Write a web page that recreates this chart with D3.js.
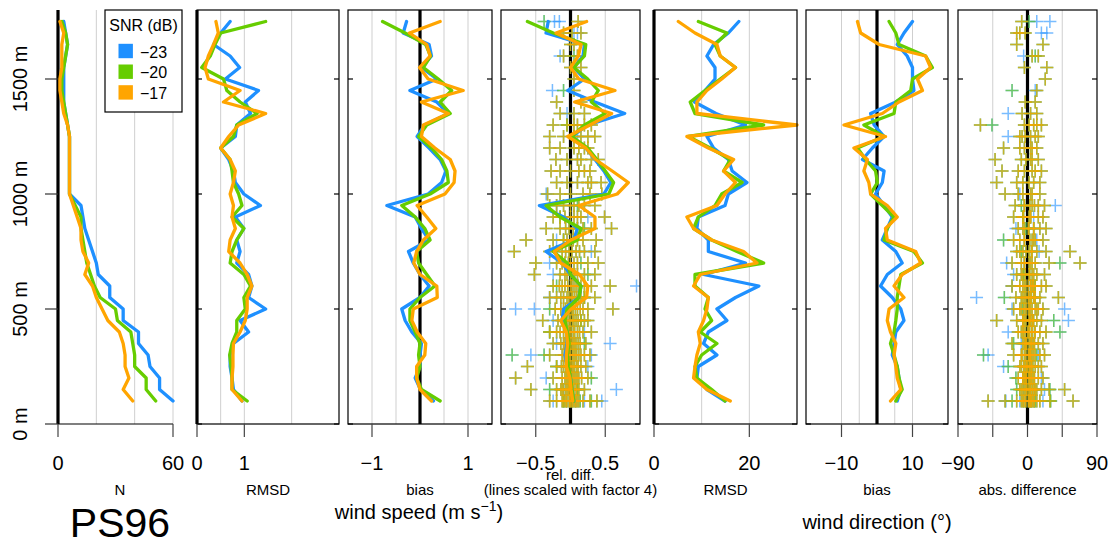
<!DOCTYPE html>
<html><head><meta charset="utf-8">
<script src="https://cdn.jsdelivr.net/npm/d3@7"></script>
<style>
body{margin:0;background:#fff;}
svg{display:block;font-family:"Liberation Sans",Arial,Helvetica,sans-serif;}
</style>
</head><body>
<svg id="c" width="1111" height="546"></svg>
<script>
// ---------------- DATA ----------------
const heights = [1750,1700,1650,1600,1550,1500,1450,1400,1350,1300,1250,1200,1150,1100,1050,1000,950,900,850,800,750,700,650,600,550,500,450,400,350,300,250,200,150,100];
const snrLabels = ["\u221223","\u221220","\u221217"];
const seriesColors = ["#1E90FF","#66CD00","#FFA500"];

// number of samples
const nBlue   = [3,4,5,4,3,3,3,3,4,5,6,6,6,6,6,6,12,13,14,16,18,20,21,27,27,34,34,42,42,47,48,53,53,60];
const nGreen  = [2,4,5,4,3,2,2,3,4,5,6,6,6,6,6,6,9,12,12,13,14,15,17,19,22,30,31,38,39,40,40,46,46,51];
const nOrange = [1,3,2,2,2,1,1,2,3,5,6,6,6,6,6,6,8,10,12,12,13,16,14,18,20,23,26,32,34,35,35,37,34,39];

// wind speed RMSD (m/s)
const wsRmsdBlue   = [0.70,0.50,0.35,0.70,0.90,0.60,1.30,1.02,1.13,0.84,0.81,0.50,0.67,0.77,0.81,0.99,1.34,0.81,0.99,0.84,0.91,0.84,1.09,1.16,1.09,1.45,0.91,1.09,0.77,0.70,0.70,0.74,0.77,0.95];
const wsRmsdGreen  = [1.45,0.50,0.38,0.28,0.10,0.56,0.63,0.91,1.27,0.84,0.77,0.50,0.70,0.74,0.77,0.88,0.95,0.74,0.99,0.84,0.74,0.70,0.99,1.13,0.99,1.02,0.84,0.84,0.74,0.69,0.72,0.74,0.74,1.06];
const wsRmsdOrange = [0.40,0.45,0.35,0.24,0.17,0.24,0.91,0.56,1.45,0.88,0.67,0.50,0.70,0.81,0.77,0.70,0.77,0.74,0.81,0.70,0.67,0.91,1.06,1.16,1.06,1.06,1.02,0.91,0.77,0.76,0.76,0.74,0.74,0.95];

// wind speed bias (m/s)
const wsBiasBlue   = [-0.28,-0.35,0.19,0.24,0.03,0.35,-0.21,0.35,0.59,0.10,-0.06,0.19,0.42,0.54,0.45,0.17,-0.69,-0.10,0.03,0.19,-0.24,-0.14,0.00,0.19,0.00,-0.38,-0.31,-0.17,0.03,0.00,0.00,-0.10,0.01,0.28];
const wsBiasGreen  = [-0.78,-0.31,0.12,0.22,0.07,0.38,0.66,0.42,0.63,0.14,-0.03,0.24,0.45,0.56,0.59,0.21,-0.38,-0.10,0.10,0.21,-0.07,-0.03,0.14,0.31,0.00,-0.21,-0.21,-0.10,0.00,-0.03,0.00,-0.07,0.03,0.42];
const wsBiasOrange = [0.42,-0.22,0.14,0.21,-0.01,0.17,0.90,0.03,0.59,0.07,0.03,0.31,0.63,0.73,0.71,0.52,-0.06,0.14,0.33,0.07,-0.07,-0.13,0.00,0.35,0.36,-0.14,-0.17,-0.06,0.12,0.10,-0.07,-0.07,0.00,0.24];

// wind speed mean relative difference (unscaled; drawn x4)
const wsRelBlue   = [-0.080,-0.088,0.050,0.045,0.012,0.050,-0.010,0.088,0.195,0.062,0.005,0.055,0.088,0.120,0.145,0.120,-0.112,-0.025,0.025,0.012,-0.088,-0.030,0.000,0.038,0.030,-0.025,-0.030,-0.012,-0.012,-0.020,-0.012,0.000,0.005,0.012];
const wsRelGreen  = [-0.155,-0.062,0.055,0.050,0.012,0.062,0.100,0.075,0.125,0.050,0.005,0.062,0.095,0.125,0.155,0.138,-0.088,-0.038,0.038,0.025,-0.062,-0.012,0.000,0.038,0.030,-0.012,-0.020,-0.012,-0.005,-0.012,-0.008,0.000,0.005,0.012];
const wsRelOrange = [0.058,-0.052,0.038,0.028,0.000,0.030,0.160,0.015,0.148,0.070,-0.010,0.055,0.090,0.150,0.208,0.168,0.030,0.088,0.088,0.002,-0.058,-0.035,0.032,0.062,0.058,0.002,-0.035,-0.015,-0.010,-0.015,-0.015,-0.002,0.002,0.008];

// wind direction RMSD (deg)
const wdRmsdBlue   = [17.8,15.6,12.5,11.1,12.8,12.8,10.7,8.5,13.0,19.2,11.1,12.5,15.6,16.4,19.5,15.6,14.9,9.3,9.0,11.4,11.4,19.2,10.4,22.0,17.1,13.2,15.3,11.4,10.4,13.2,9.3,9.0,11.1,14.9];
const wdRmsdGreen  = [9.3,15.3,12.8,13.9,17.1,13.9,10.7,7.6,8.6,23.0,7.2,11.8,16.0,14.6,18.5,14.2,12.8,9.3,8.3,12.1,17.4,23.0,8.6,8.6,11.4,10.7,12.1,9.7,13.2,10.0,8.6,9.0,12.1,14.9];
const wdRmsdOrange = [5.1,8.6,13.2,13.9,17.1,14.2,11.1,9.0,9.0,30.0,6.9,11.4,16.7,14.6,17.1,14.9,13.2,6.9,8.3,12.1,18.8,21.6,9.7,8.3,11.4,11.1,10.4,9.3,9.7,9.0,8.6,8.3,11.1,16.0];

// wind direction bias (deg)
const wdBiasBlue   = [10.0,7.6,5.7,8.5,10.0,10.0,10.4,5.3,-1.8,-0.8,2.0,-1.3,-4.1,2.0,1.5,-0.4,2.0,4.3,2.9,1.5,5.3,7.1,2.9,1.0,4.3,6.7,7.6,5.3,4.8,4.3,5.7,6.2,6.7,5.7];
const wdBiasGreen  = [3.4,5.3,6.2,13.7,15.6,10.0,9.5,5.3,4.8,-3.7,2.0,-5.5,-3.2,-0.4,0.1,-1.8,1.5,4.8,2.9,2.0,10.4,12.8,6.7,6.2,5.7,5.7,5.3,4.8,3.8,4.8,5.7,6.2,7.1,5.3];
const wdBiasOrange = [-5.5,-4.6,0.6,13.7,15.1,11.4,12.8,6.2,1.5,-9.3,2.4,-6.5,-2.7,-3.7,-2.3,-1.8,2.9,5.7,2.4,2.9,10.9,12.3,7.1,4.8,7.6,3.4,2.9,3.8,5.3,4.8,5.3,5.7,6.7,3.8];

// individual samples [height m, wind speed rel. diff., wind direction abs. diff. deg]
// SNR >= -17 dB
const samplesO = [
 [100,-0.30,-51],[100,-0.20,-29],[100,-0.12,-14],[100,-0.08,-6],[100,-0.05,2],[100,-0.02,-3],[100,0.00,8],[100,0.02,4],[100,0.05,12],[100,0.08,-8],[100,0.12,16],[100,0.18,29],[100,0.28,59],[100,0.38,6],
 [100,-0.06,-2],[100,-0.01,3],[100,0.03,-5],[100,0.07,9],[100,0.10,1],[100,-0.10,5],
 [150,-0.57,48],[150,-0.20,-10],[150,-0.10,-4],[150,-0.05,6],[150,-0.02,12],[150,0.01,-2],[150,0.04,3],[150,0.08,18],[150,0.12,-8],[150,0.20,9],[150,-0.14,28],
 [150,-0.07,1],[150,-0.03,-6],[150,0.00,7],[150,0.05,-1],[150,0.09,4],[150,-0.12,10],
 [200,-0.79,-6],[200,-0.25,4],[200,-0.12,-12],[200,-0.06,8],[200,-0.02,2],[200,0.02,14],[200,0.06,-4],[200,0.10,20],[200,0.16,6],[200,0.25,-2],
 [200,-0.08,-3],[200,-0.04,5],[200,0.00,-1],[200,0.04,2],[200,0.08,9],[200,0.12,-6],
 [250,-0.62,-8],[250,-0.20,10],[250,-0.10,-2],[250,-0.04,5],[250,0.00,-10],[250,0.04,14],[250,0.09,2],[250,0.15,18],[250,0.22,-5],
 [250,-0.07,3],[250,-0.02,-4],[250,0.02,7],[250,0.06,-1],[250,0.11,5],[250,-0.13,0],
 [300,-0.30,-18],[300,-0.12,6],[300,-0.06,-4],[300,-0.02,10],[300,0.03,2],[300,0.07,16],[300,0.12,-8],[300,0.20,22],[300,0.28,4],
 [300,-0.09,1],[300,-0.04,-7],[300,0.00,4],[300,0.05,8],[300,0.09,-2],[300,0.15,3],
 [350,-0.25,-20],[350,-0.10,4],[350,-0.05,-6],[350,0.00,8],[350,0.04,14],[350,0.08,-2],[350,0.14,20],[350,0.22,5],
 [350,-0.08,-1],[350,-0.03,6],[350,0.02,-4],[350,0.06,2],[350,0.11,9],[350,-0.14,-3],
 [400,-0.30,-12],[400,-0.15,10],[400,-0.06,-3],[400,-0.01,6],[400,0.04,16],[400,0.10,-8],[400,0.18,2],[400,0.30,24],
 [400,-0.10,2],[400,-0.03,-5],[400,0.01,9],[400,0.06,0],[400,0.13,5],[400,-0.20,-6],
 [450,-0.40,-40],[450,-0.18,-14],[450,-0.08,6],[450,-0.02,-4],[450,0.03,12],[450,0.08,2],[450,0.15,18],[450,0.25,-6],
 [450,-0.12,3],[450,-0.05,-2],[450,0.00,8],[450,0.05,-6],[450,0.11,4],[450,0.20,7],
 [500,-0.22,-18],[500,-0.10,6],[500,-0.04,-5],[500,0.02,10],[500,0.07,20],[500,0.14,2],[500,0.25,-10],[500,0.61,14],
 [500,-0.14,-3],[500,-0.07,2],[500,-0.01,-8],[500,0.04,4],[500,0.10,12],[500,0.18,-1],
 [550,-0.30,-15],[550,-0.14,8],[550,-0.05,-8],[550,0.01,4],[550,0.06,16],[550,0.12,-2],[550,0.20,40],[550,0.35,10],
 [550,-0.10,2],[550,-0.02,-4],[550,0.03,9],[550,0.09,1],[550,0.15,-6],[550,-0.20,5],
 [600,-0.25,-20],[600,-0.12,4],[600,-0.04,-10],[600,0.02,8],[600,0.08,18],[600,0.15,-4],[600,0.30,24],[600,0.57,6],
 [600,-0.16,-2],[600,-0.08,7],[600,0.00,1],[600,0.05,-6],[600,0.11,4],[600,0.20,10],
 [650,-0.52,-14],[650,-0.15,6],[650,-0.05,-6],[650,0.03,12],[650,0.10,2],[650,0.20,22],[650,0.35,-8],
 [650,-0.08,3],[650,0.00,-3],[650,0.06,8],
 [700,-0.50,-20],[700,-0.20,4],[700,-0.08,-8],[700,0.00,10],[700,0.10,28],[700,0.25,68],[700,0.40,-4],
 [700,-0.12,2],[700,-0.03,-4],[700,0.05,6],
 [750,-0.81,-10],[750,-0.30,6],[750,-0.12,55],[750,-0.02,-14],[750,0.08,12],[750,0.20,24],[750,0.35,2],
 [750,-0.07,-2],[750,0.02,5],[750,0.13,-6],
 [800,-0.64,-4],[800,-0.25,-18],[800,-0.10,8],[800,0.00,-10],[800,0.10,20],[800,0.37,10],
 [800,-0.05,3],[800,0.04,-4],[800,0.18,6],
 [850,-0.35,-12],[850,-0.15,8],[850,-0.02,-4],[850,0.10,16],[850,0.30,2],[850,0.59,24],
 [850,-0.07,1],[850,0.04,-6],[850,0.18,8],
 [900,-0.25,-18],[900,-0.08,4],[900,0.05,14],[900,0.15,-6],[900,0.49,20],
 [900,-0.15,4],[900,0.00,-5],[900,0.10,2],
 [950,-0.30,-16],[950,-0.10,6],[950,0.05,-4],[950,0.20,14],[950,0.35,22],
 [950,-0.20,-4],[950,0.00,3],[950,0.12,9],
 [1000,-0.33,-29],[1000,-0.15,-12],[1000,0.00,6],[1000,0.18,16],[1000,0.28,4],[1000,0.45,-6],
 [1050,-0.20,-40],[1050,-0.05,-6],[1050,0.10,8],[1050,0.25,16],[1050,0.44,2],[1050,0.30,-14],
 [1100,-0.15,-33],[1100,0.00,-4],[1100,0.12,10],[1100,0.28,18],[1100,-0.28,6],[1100,0.20,-12],
 [1150,-0.21,-42],[1150,-0.05,-8],[1150,0.10,6],[1150,0.30,14],[1150,0.15,-2],[1150,0.40,4],
 [1200,-0.15,-31],[1200,0.05,-10],[1200,0.12,4],[1200,0.25,12],[1200,-0.30,6],[1200,0.20,-4],
 [1250,-0.30,-7],[1250,-0.10,10],[1250,0.05,14],[1250,0.35,-3],[1250,0.15,4],[1250,0.25,-10],
 [1300,-0.25,-61],[1300,-0.05,-4],[1300,0.10,12],[1300,0.30,8],[1300,0.20,2],[1300,0.05,18],
 [1350,-0.15,-7],[1350,0.05,12],[1350,0.20,4],
 [1400,-0.20,10],[1400,0.15,-3],
 [1450,0.05,12],
 [1500,0.05,23],
 [1550,0.00,25],[1550,0.15,-4],
 [1600,-0.10,14],[1600,0.10,6],
 [1650,0.00,-14],[1650,0.05,20],
 [1700,-0.10,-14],[1700,0.02,-10],[1700,0.15,-3],
 [1750,0.11,-7.5]
];
// -20 dB <= SNR < -17 dB
const samplesG = [
 [100,0.30,-20],[100,-0.10,30],[100,0.14,10],[150,-0.30,29],[150,0.10,-14],[200,0.30,-15],[250,-0.20,-25],
 [300,-0.84,-57],[300,-0.38,12],[350,0.20,-18],[400,-0.30,42],[450,0.15,34],[500,-0.30,-6],[550,0.20,-30],
 [600,-0.20,10],[650,0.25,-5],[700,0.15,42],[750,-0.20,-8],[800,-0.10,-31],[850,0.20,-2],[900,-0.15,-6],
 [950,0.10,-8],[1300,-0.05,-46],[1450,-0.10,-20],[1600,0.05,10],[1750,-0.38,2]
];
// -23 dB <= SNR < -20 dB
const samplesB = [
 [100,0.45,-10],[100,-0.25,20],[100,0.20,-28],[150,0.66,-5],[150,-0.10,22],[200,-0.35,18],[250,0.25,-31],
 [300,-0.57,-51],[300,0.30,14],[350,0.57,-8],[350,-0.20,8],[400,0.20,-25],[450,-0.25,53],[500,-0.79,-20],
 [500,-0.52,48],[550,-0.30,-66],[600,0.95,-20],[650,-0.25,-18],[700,-0.30,-27],[750,0.30,15],[800,-0.20,12],
 [850,0.10,-15],[900,0.25,8],[950,-0.20,36],[1000,-0.35,-10],[1250,0.10,-25],[1350,-0.05,-25],[1450,-0.26,10],
 [1600,-0.15,-5],[1700,0.05,18],[1700,0.10,25],[1750,-0.23,29],[1750,-0.16,12]
];

// axes texts
const yTickValues = [0,500,1000,1500];
const yTickLabels = ["0 m","500 m","1000 m","1500 m"];
const xTickValues = [[0,60],[0,1],[-1,1],[-0.5,0.5],[0,20],[-10,10],[-90,-45,0,45,90]];
const xTickLabels = [["0","60"],["0","1"],["\u22121","1"],["\u22120.5","0.5"],["0","20"],["\u221210","10"],["\u221290","","0","","90"]];
const gridValues = [[20,40,60],[0.5,1,2],[-1,-0.5,0.5,1],[-0.5,0.5],[10,20],[-10,-5,5,10],[-45,45]];
const panelLabels = ["N","RMSD","bias","(lines scaled with factor 4)","RMSD","bias","abs. difference"];

// ---------------- DRAW ----------------
const svg = d3.select('#c');
const FONT = '"Liberation Sans",Arial,Helvetica,sans-serif';
const plotTop = 10, plotBottom = 424;
const y = d3.scaleLinear().domain([0,1800]).range([plotBottom, plotTop]);

const panels = [
  {x0:58,  x1:173,  domain:[0,60],      box:false, lines:[nBlue,nGreen,nOrange]},
  {x0:197, x1:339,  domain:[0,3],       box:true,  lines:[wsRmsdBlue,wsRmsdGreen,wsRmsdOrange]},
  {x0:348, x1:492,  domain:[-1.5,1.5],  box:true,  lines:[wsBiasBlue,wsBiasGreen,wsBiasOrange]},
  {x0:501, x1:640,  domain:[-1,1],      box:true,  lines:[wsRelBlue,wsRelGreen,wsRelOrange], lineFactor:4, cross:1},
  {x0:654, x1:797,  domain:[0,30],      box:true,  lines:[wdRmsdBlue,wdRmsdGreen,wdRmsdOrange]},
  {x0:806, x1:948,  domain:[-20,20],    box:true,  lines:[wdBiasBlue,wdBiasGreen,wdBiasOrange]},
  {x0:958, x1:1097, domain:[-90,90],    box:true,  lines:null, cross:2}
];

const defs = svg.append('defs');

panels.forEach((p, pi) => {
  const x = d3.scaleLinear().domain(p.domain).range([p.x0, p.x1]);
  const g = svg.append('g');
  defs.append('clipPath').attr('id','clip'+pi).append('rect')
    .attr('x',p.x0).attr('y',plotTop).attr('width',p.x1-p.x0).attr('height',plotBottom-plotTop);

  // grid
  g.selectAll(null).data(gridValues[pi]).enter().append('line')
    .attr('x1',d=>x(d)).attr('x2',d=>x(d)).attr('y1',plotTop).attr('y2',plotBottom)
    .attr('stroke','#cfcfcf').attr('stroke-width',1);

  // zero line
  g.append('line').attr('x1',x(0)).attr('x2',x(0)).attr('y1',plotTop).attr('y2',plotBottom)
    .attr('stroke','#000').attr('stroke-width',3.2);

  // crosses
  if (p.cross) {
    const cg = g.append('g').attr('clip-path','url(#clip'+pi+')');
    const all = samplesO.concat(samplesG, samplesB);
    const layers = [[all, seriesColors[0]], [samplesO.concat(samplesG), seriesColors[1]], [samplesO, seriesColors[2]]];
    const s = 6.5;
    layers.forEach(([arr,col]) => {
      cg.selectAll(null).data(arr).enter().append('path')
        .attr('d', d => { const cx = x(d[p.cross]), cy = y(d[0]);
          return `M${cx-s},${cy}H${cx+s}M${cx},${cy-s}V${cy+s}`; })
        .attr('stroke', col).attr('stroke-width',1.5).attr('stroke-opacity',0.6).attr('fill','none');
    });
  }

  // lines
  if (p.lines) {
    const f = p.lineFactor || 1;
    const line = d3.line().x(d=>x(d[1]*f)).y(d=>y(d[0]));
    p.lines.forEach((vals, si) => {
      g.append('path').datum(heights.map((h,i)=>[h, vals[i]]))
        .attr('d', line).attr('fill','none').attr('stroke', seriesColors[si])
        .attr('stroke-width',3.3).attr('stroke-linejoin','round').attr('stroke-linecap','round');
    });
  }

  // box or bottom axis line
  if (p.box) {
    g.append('rect').attr('x',p.x0).attr('y',plotTop).attr('width',p.x1-p.x0).attr('height',plotBottom-plotTop)
      .attr('fill','none').attr('stroke','#000').attr('stroke-width',1.2);
    yTickValues.forEach(v => {
      g.append('line').attr('x1',p.x0).attr('x2',p.x0+5).attr('y1',y(v)).attr('y2',y(v)).attr('stroke','#000').attr('stroke-width',1.2);
      g.append('line').attr('x1',p.x1-5).attr('x2',p.x1).attr('y1',y(v)).attr('y2',y(v)).attr('stroke','#000').attr('stroke-width',1.2);
    });
  } else {
    g.append('line').attr('x1',p.x0).attr('x2',p.x1).attr('y1',plotBottom).attr('y2',plotBottom).attr('stroke','#000').attr('stroke-width',1.2);
    yTickValues.forEach((v,i) => {
      g.append('line').attr('x1',p.x0-13).attr('x2',p.x0).attr('y1',y(v)).attr('y2',y(v)).attr('stroke','#333').attr('stroke-width',1.2);
      g.append('text').attr('transform',`translate(27,${y(v)}) rotate(-90)`)
        .attr('text-anchor','middle').attr('font-size',20).attr('font-family',FONT).text(yTickLabels[i]);
    });
  }

  // x ticks and labels
  xTickValues[pi].forEach((v,i) => {
    g.append('line').attr('x1',x(v)).attr('x2',x(v)).attr('y1',plotBottom).attr('y2',plotBottom+13)
      .attr('stroke','#444').attr('stroke-width',1.2);
    g.append('text').attr('x',x(v)).attr('y',470).attr('text-anchor','middle')
      .attr('font-size',20).attr('font-family',FONT).text(xTickLabels[pi][i]);
  });

  // panel label
  const cx = pi === 0 ? 120 : (p.x0+p.x1)/2;
  g.append('text').attr('x',cx).attr('y',495).attr('text-anchor','middle')
    .attr('font-size',15).attr('font-family',FONT).text(panelLabels[pi]);
  if (p.cross === 1) {
    g.append('text').attr('x',cx).attr('y',480).attr('text-anchor','middle')
      .attr('font-size',15).attr('font-family',FONT).text('rel. diff.');
  }
});

// legend
const lg = svg.append('g');
lg.append('rect').attr('x',105).attr('y',10).attr('width',77).attr('height',102)
  .attr('fill','#fff').attr('stroke','#000').attr('stroke-width',1.2);
lg.append('text').attr('x',143.5).attr('y',31).attr('text-anchor','middle')
  .attr('font-size',16).attr('font-family',FONT).text('SNR (dB)');
snrLabels.forEach((lab,i) => {
  const cy = 51 + i*20.7;
  lg.append('rect').attr('x',118.5).attr('y',cy-7.2).attr('width',14.4).attr('height',14.4).attr('fill',seriesColors[i]);
  lg.append('text').attr('x',140).attr('y',cy+6.5).attr('font-size',16).attr('font-family',FONT).text(lab);
});

// group titles
const ws = svg.append('text').attr('x',419).attr('y',519).attr('text-anchor','middle')
  .attr('font-size',20).attr('font-family',FONT);
ws.append('tspan').text('wind speed (m s');
ws.append('tspan').attr('font-size',14).attr('dy',-8).text('\u22121');
ws.append('tspan').attr('dy',8).text(')');
svg.append('text').attr('x',877).attr('y',529).attr('text-anchor','middle')
  .attr('font-size',20).attr('font-family',FONT).text('wind direction (\u00b0)');
svg.append('text').attr('x',120).attr('y',537).attr('text-anchor','middle')
  .attr('font-size',41).attr('font-family',FONT).text('PS96');
</script>
</body></html>
